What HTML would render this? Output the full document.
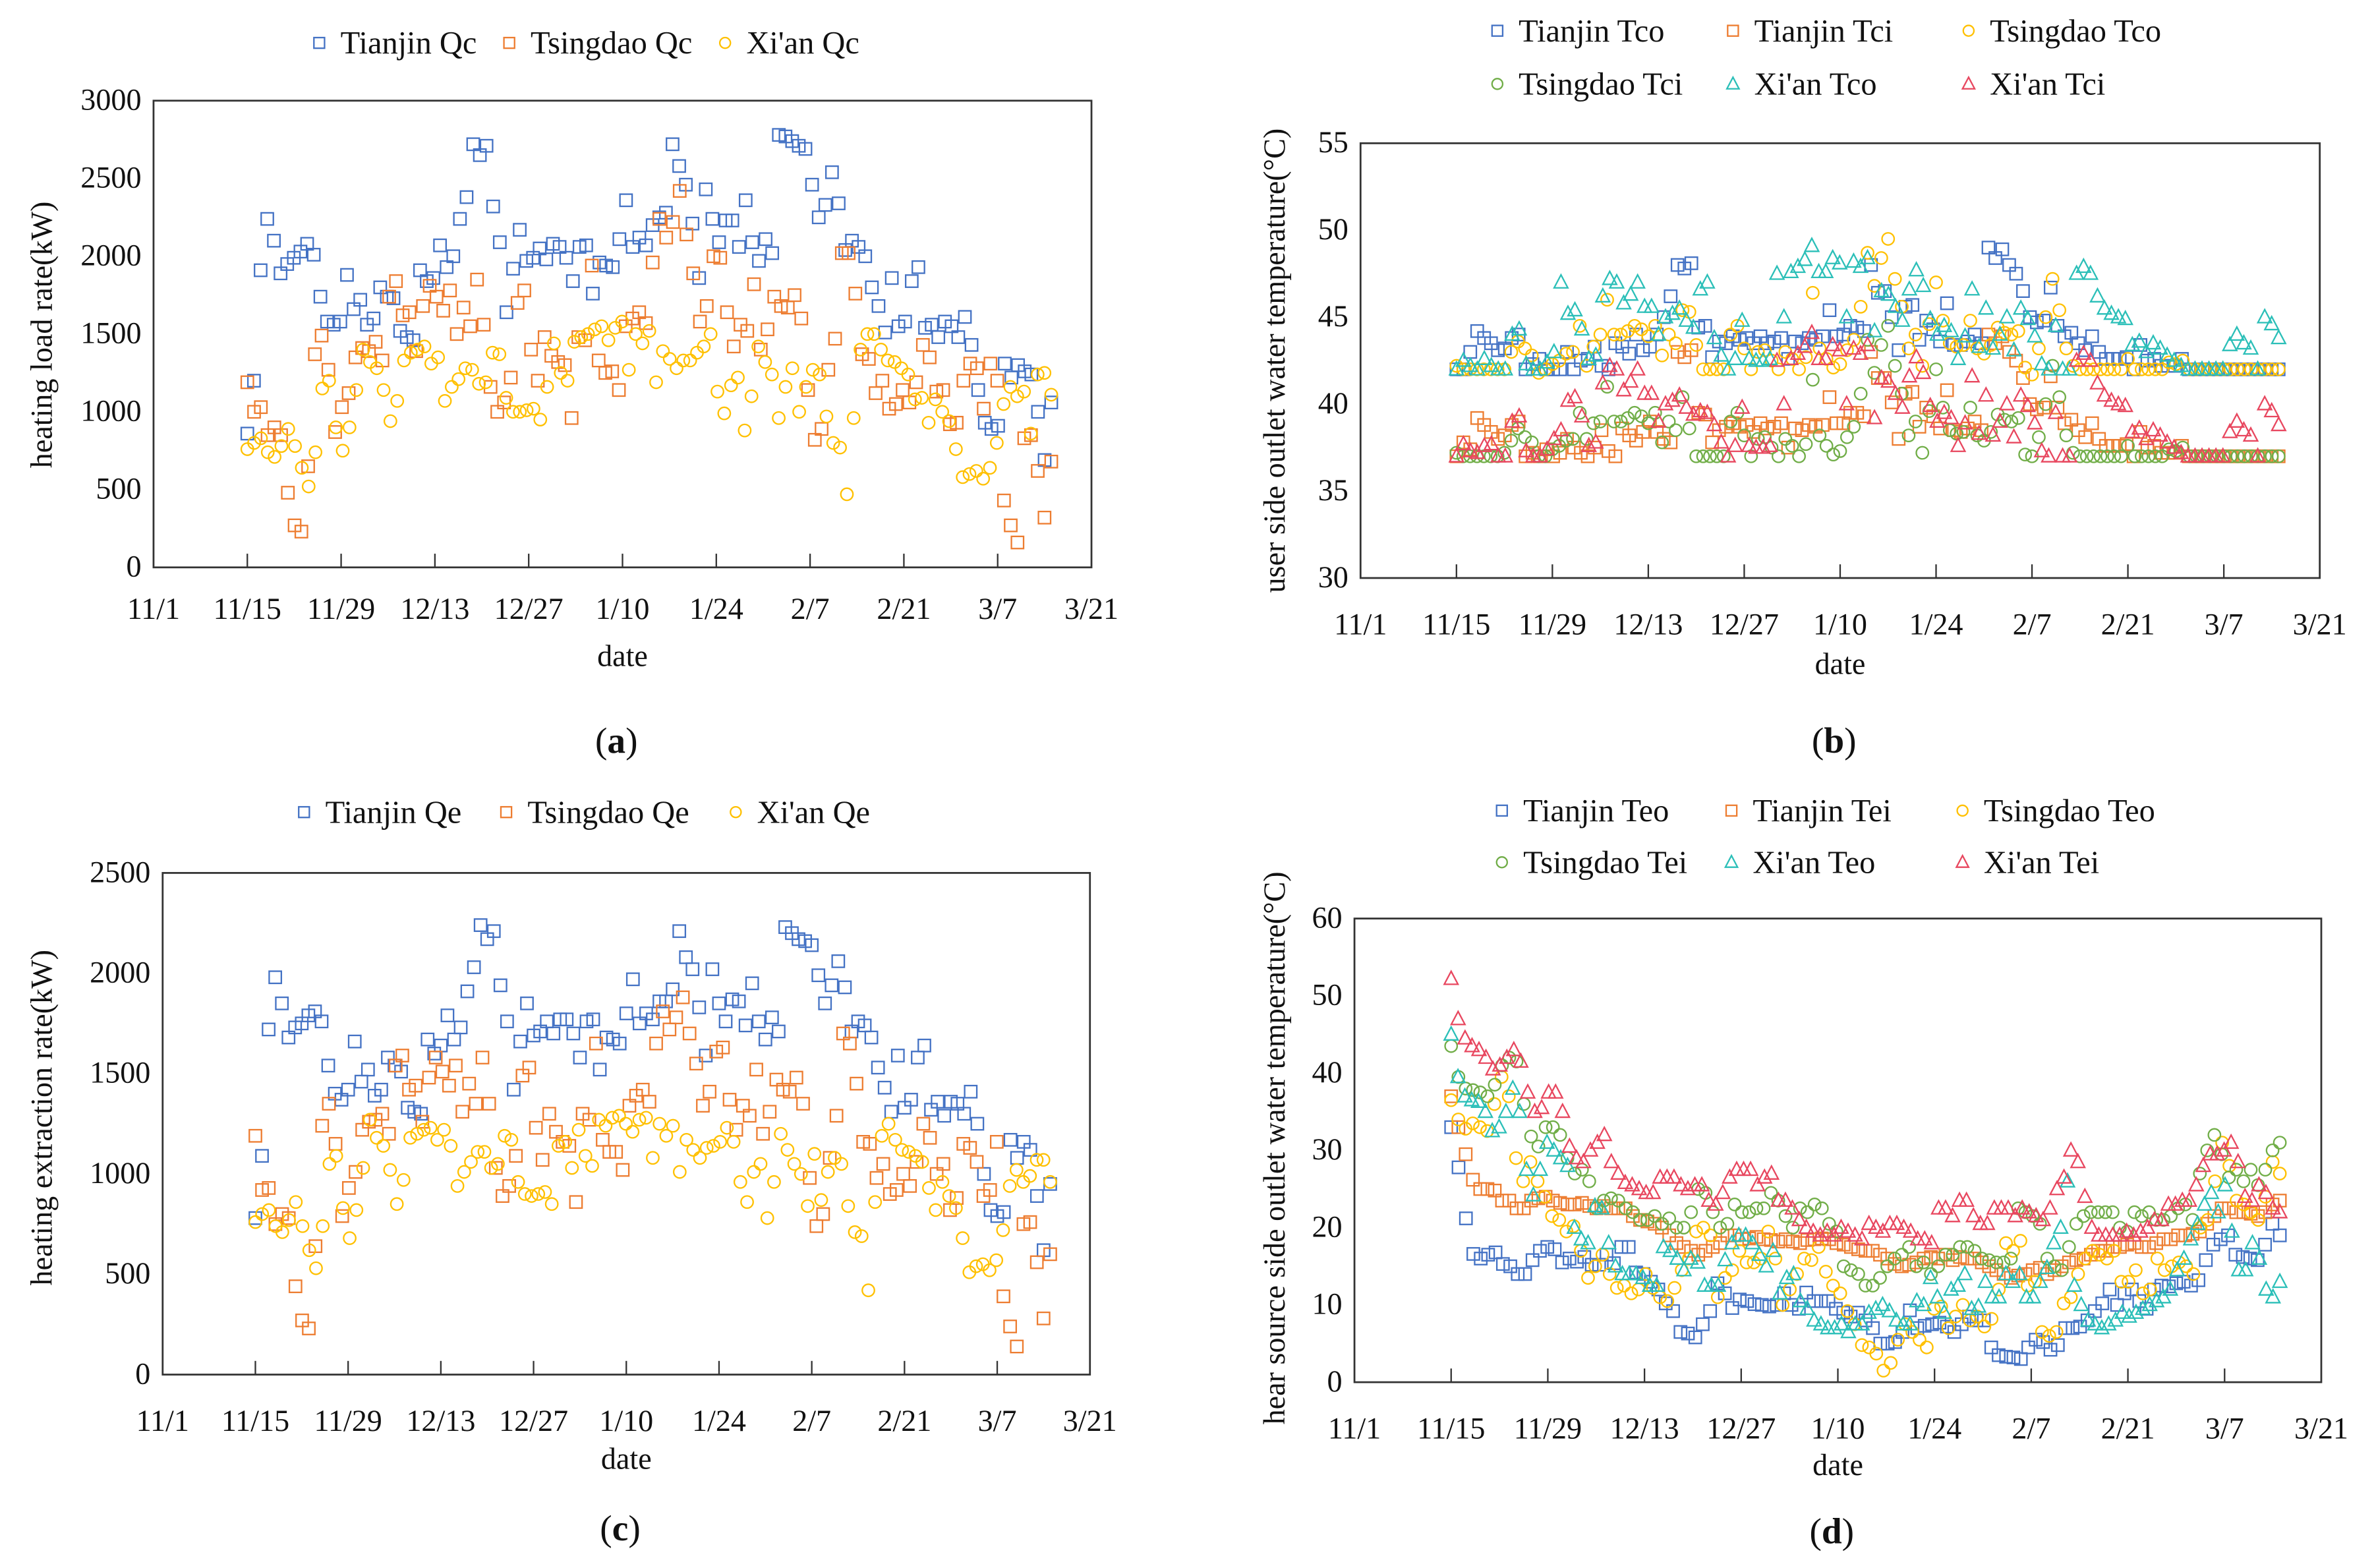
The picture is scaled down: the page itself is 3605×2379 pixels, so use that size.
<!DOCTYPE html>
<html><head><meta charset="utf-8"><style>
html,body{margin:0;padding:0;background:#fff}
svg{display:block}
svg text{font-family:"Liberation Serif","Noto Serif CJK SC",serif;fill:#111}
</style></head><body>
<svg id="fig" width="3605" height="2379" viewBox="0 0 1563 1031" xmlns="http://www.w3.org/2000/svg"></svg>
<script>
const dateTicks=["11/1","11/15","11/29","12/13","12/27","1/10","1/24","2/7","2/21","3/7","3/21"];
const startDay=14;
const endDay=134;
const aTianjin=[860,1200,1910,2240,2100,1890,1950,1990,2030,2080,2010,1740,1580,1560,1580,1880,1660,1720,1560,1600,1800,1740,1730,1520,1480,1460,1910,1840,1860,2070,1930,2000,2240,2380,2720,2650,2710,2320,2090,1640,1920,2170,1970,1990,2050,1980,2080,2060,1990,1840,2060,2070,1760,1960,1940,1930,2110,2360,2060,2120,2070,2200,2250,2280,2720,2580,2460,2210,1860,2430,2240,2090,2230,2230,2060,2360,2090,1970,2110,2020,2780,2770,2740,2710,2690,2460,2250,2330,2540,2340,2040,2100,2060,2000,1800,1680,1510,1860,1550,1580,1840,1930,1540,1560,1480,1580,1550,1480,1610,1430,1140,930,890,910,1310,1220,1300,1260,1240,1000,690,1060];
const aTsingdao=[1190,1000,1030,850,900,850,480,270,230,650,1370,1490,1270,870,1030,1120,1350,1410,1390,1450,1330,1740,1840,1620,1640,1390,1680,1810,1740,1650,1780,1500,1670,1550,1850,1560,1160,1000,1060,1220,1700,1780,1400,1200,1480,1360,1320,1300,960,1480,1460,1940,1330,1250,1260,1140,1550,1600,1640,1570,1960,2240,2120,2220,2420,2140,1890,1580,1680,2000,1990,1640,1420,1560,1520,1820,1400,1530,1740,1680,1670,1750,1600,1140,820,890,1270,1470,2020,2020,1760,1370,1340,1120,1200,1020,1050,1140,1060,1190,1430,1350,1130,1140,920,930,1200,1310,1280,1020,1310,1200,430,270,160,830,850,620,320,680];
const aXian=[760,800,830,740,710,780,890,780,640,520,740,1150,1200,900,750,900,1140,1400,1320,1280,1140,940,1070,1330,1380,1400,1420,1310,1350,1070,1160,1210,1280,1270,1180,1190,1380,1370,1090,1000,1000,1010,1020,950,1160,1440,1250,1200,1450,1480,1500,1530,1550,1460,1540,1580,1270,1500,1440,1520,1190,1390,1340,1280,1330,1330,1380,1420,1500,1130,990,1170,1220,880,1100,1420,1320,1240,960,1160,1280,1000,1160,1270,1240,970,800,770,470,960,1400,1500,1500,1400,1330,1320,1280,1240,1080,1090,930,1080,1000,940,760,580,600,620,570,640,800,1050,1160,1100,1130,860,1240,1250,1110];
const cTianjin=[780,1090,1720,1980,1850,1680,1730,1750,1790,1810,1760,1540,1400,1370,1420,1660,1460,1520,1390,1420,1580,1540,1510,1330,1310,1300,1670,1600,1640,1790,1670,1730,1910,2030,2240,2170,2210,1940,1760,1420,1660,1850,1690,1710,1760,1700,1770,1770,1700,1580,1760,1770,1520,1680,1670,1650,1800,1970,1750,1800,1770,1860,1860,1920,2210,2080,2020,1830,1590,2020,1850,1760,1870,1860,1740,1950,1760,1670,1780,1710,2230,2200,2170,2160,2140,1990,1850,1940,2060,1930,1710,1760,1740,1680,1530,1430,1310,1590,1330,1370,1580,1640,1320,1360,1290,1360,1350,1300,1410,1250,1000,820,790,810,1170,1080,1160,1120,890,620,950];
const cTsingdao=[1190,920,930,750,800,780,440,270,230,640,1240,1350,1150,790,930,1010,1220,1260,1270,1300,1200,1540,1590,1420,1440,1260,1480,1580,1510,1440,1540,1310,1450,1350,1580,1350,1030,890,940,1090,1490,1530,1230,1070,1300,1210,1160,1140,860,1300,1270,1650,1170,1110,1110,1020,1340,1390,1420,1360,1650,1810,1720,1780,1880,1700,1550,1340,1410,1610,1630,1370,1220,1340,1290,1520,1200,1310,1470,1420,1410,1480,1350,980,740,800,1080,1290,1700,1650,1450,1160,1150,980,1050,900,920,1000,940,1060,1250,1180,1000,1050,820,880,1150,1130,1060,890,920,1160,390,240,140,750,760,560,280,600];
const cXian=[760,800,820,740,710,770,860,740,620,530,740,1050,1090,830,680,820,1030,1270,1180,1140,1020,850,970,1180,1200,1220,1230,1170,1220,1140,940,1010,1060,1110,1110,1030,1050,1190,1170,960,900,890,900,910,850,1140,1160,1030,1220,1090,1040,1270,1240,1280,1290,1250,1210,1270,1280,1080,1250,1190,1240,1010,1170,1120,1080,1130,1140,1160,1230,1160,960,860,1010,1050,780,960,1200,1120,1050,1000,840,1100,870,1010,1080,1050,840,710,690,420,860,1190,1250,1170,1120,1110,1090,1060,930,820,960,890,830,680,510,540,550,520,570,720,940,1020,960,990,1070,1070,960];
const bTianjinTco=[42,42,43,44.2,43.8,43.5,43.1,43.2,43.8,44,42,42.3,42.6,42,42,42,43,42,42.5,42.6,43.3,42.2,42,43.5,43.3,42.9,44,43.1,43.3,44,45,46.2,48,47.8,48.1,44.4,44.5,42.7,43.6,43.5,43.9,43.7,43.8,43.5,43.9,43.5,43.6,43.8,42.6,43.6,43.5,43.8,43.7,43.9,45.4,43.9,44,44.5,44.4,44.2,48,46.4,46.5,45,43.1,45.6,45.7,43.7,44.8,44.3,43.6,45.8,43.4,43.4,43.6,44,43.5,49,48.4,48.9,48,47.5,46.5,45,44.7,44.8,46.7,44.5,43.9,44.1,43.5,43.1,43.9,43,42.6,42.6,42.6,42.7,42,43.4,42.5,42.6,42.2,42.2,42.2,42.6,42,42,42,42,42,42,42,42,42,42,42,42,42,42];
const bTianjinTci=[37,37.8,37.4,39.2,38.8,38.4,38,38.2,38.8,39,37,37.2,37,37.4,37,37.2,38,37.5,37.2,37,37.5,38.5,37.3,37,38.6,38.2,37.9,38.4,39,38.4,38,37.8,43,42.7,43.1,39.5,39.4,37.8,38.5,38.7,38.9,38.7,38.8,38.4,38.9,38.6,38.7,38.9,37.5,38.6,38.5,38.8,38.7,38.8,40.4,38.9,38.9,39.5,39.5,39.3,43,41.5,41.5,40.1,38,40.6,40.7,38.7,39.8,39.3,38.6,40.8,38.5,38.4,38.6,39,38.5,44,43.5,43.9,43,42.5,41.5,40,39.7,39.8,41.6,39.8,38.9,39.1,38.5,38.1,38.9,38,37.6,37.6,37.6,37.7,37,38.4,37.5,37.6,37.2,37.2,37.2,37.6,37,37,37,37,37,37,37,37,37,37,37,37,37,37];
const bTsingdaoTco=[42.2,42,42,42,42,42,42,42,43,43.6,43.2,42.8,41.8,42,42.3,42.5,42.9,43,44.5,42.2,43.3,44,46,44,44,44.2,44.5,44.3,43.9,44.5,42.8,44,43.5,45.4,45.3,43.4,42,42,42,42,44,44.5,43.2,42,43,43.1,42.5,42,43,42.6,42,42.7,46.4,43.2,42.6,42.1,42.3,43.1,43.7,45.6,48.7,46.8,48.4,49.5,47.2,45.6,43.2,44,42.2,44.6,47,44.8,43.5,43.3,43.4,44.8,43.2,42.9,43.4,44.4,44.1,44,44.2,42.1,41.7,43.2,45,47.2,45.4,43.2,42.2,42,42,42,42,42,42,42,42.6,42,42,42,42,42,42.4,42.3,42.5,42,42,42,42,42,42,42,42,42,42,42,42,42,42];
const bTsingdaoTci=[37.2,37,37,37,37,37,37,37.2,37.9,38.6,38.1,37.8,37,37,37.4,37.6,37.9,38,39.5,38,38.9,39,41,39,39,39.2,39.5,39.3,38.9,39.5,37.8,39,38.5,40.4,38.6,37,37,37,37,37,39,39.5,38.2,37,38,38.1,37.5,37,38,37.6,37,37.7,41.4,38.2,37.6,37.1,37.3,38.1,38.7,40.6,43.7,41.8,43.4,44.5,42.2,40.6,38.2,39,37.2,39.6,42,39.8,38.5,38.3,38.4,39.8,38.2,37.9,38.4,39.4,39.1,39,39.2,37.1,37,38.1,40,42.2,40.4,38.2,37.2,37,37,37,37,37,37,37,37.6,37,37,37,37,37,37.4,37.3,37.5,37,37,37,37,37,37,37,37,37,37,37,37,37,37];
const bXianTco=[42,42.5,42.2,42,42.6,42.2,42,42,44,44.3,42.3,42,42,42.4,43,47,45.2,45.4,44.3,42.6,42.8,46.2,47.2,47,45.8,46.3,47,45.6,45.6,44,45,45.2,45.5,44.8,44.4,46.6,47,43.8,42.8,42,42.6,44.8,42.6,42.5,42.5,42.6,47.5,45,47.6,47.9,48.3,49.1,47.6,47.6,48.4,48.1,45,48.2,47.9,48.4,44.2,46.5,46.3,45.6,44.8,46.6,47.7,46.8,44.9,44,44.5,44.2,42.6,43.9,46.6,43.3,45.5,43.2,44,45,43.1,45.5,44.9,43.9,42.3,42,44.5,42,42,47.5,47.9,47.5,46.2,45.5,45.2,45,44.9,43.4,43.6,43,43.5,43.2,42.8,42.5,42.2,42,42,42,42,42,42,43.4,44,43.5,43.2,42,45,44.6,43.8];
const bXianTci=[37,37.7,37.3,37.2,37.6,37.7,37,37,39,39.3,37.3,37,37,37.4,38,38.5,40.2,40.4,39.3,37.6,37.8,41.2,42.2,42,40.8,41.3,42,40.6,40.6,39,40,40.2,40.5,39.8,39.4,39.6,39.5,38.8,37.8,37,37.6,39.8,37.6,37.5,37.5,37.6,42.5,40,42.6,42.9,43.3,44.1,42.6,42.6,43.4,43.1,40,43.2,42.9,43.4,39.2,41.5,41.3,40.6,39.8,41.6,42.7,41.8,39.9,39,39.5,39.2,37.6,38.9,41.6,38.3,40.5,38.2,39,40,38.1,40.5,39.9,38.9,37.3,37,39.5,37,37,42.5,42.9,42.5,41.2,40.5,40.2,40,39.9,38.4,38.6,38,38.5,38.2,37.8,37.5,37.2,37,37,37,37,37,37,38.4,39,38.5,38.2,37,40,39.6,38.8];
const dTianjinTeo=[33,27.8,21.2,16.6,16,16.5,16.8,15.3,15,14,14,15.8,17,17.5,17.2,15.5,16,15.6,16.2,15.2,15.2,16.5,15.4,17.5,17.5,14.2,14,13,12,10.2,9.2,6.5,6.3,5.8,7.5,9.2,12.8,11.5,9.6,10.7,10.5,10.1,10,9.8,10,11.5,10,9.5,11.6,10.5,10.5,10.5,9.5,9,8.5,9,8,7,5,5,5.2,6.5,9.3,7,7.3,7.5,7.7,7.2,6.5,7.5,8.5,8,8,4.5,3.5,3.3,3.2,3,4.5,5.5,5.2,4.2,4.8,7,7,7.2,8,9.2,10.2,12,10,11.5,12,10.5,9.5,12,12.5,12.4,12.8,13,12.5,13.2,15.8,17.8,18.5,19,16.5,16.2,16,15.8,17.8,20.5,19];
const dTianjinTei=[37,33,29.5,26.2,25,25,24.8,23.5,23.5,22.5,22.5,23.5,23.8,24,23.5,23.2,23,23,23.2,22.8,22.5,22.8,22.5,22.5,22.5,21.5,21,20.8,20.5,20,19,18,17.5,17,16.5,17,17.5,18,19,19,18.5,18.6,18.8,18.5,18.4,18.2,18.5,18.2,18,18.4,18.5,18.6,18.5,18,17.8,17.5,17.2,17,17,16.5,16,15.3,15,15.2,15.5,16,16.2,16,16.5,15.8,16.2,16,16,15.5,15,14.5,14,13.5,13.8,14,14.5,14.8,14,14.5,15,15.5,15.8,16,16.5,17,17,17.5,17.5,17.8,18,17.5,17.5,18,18.5,18.5,19,19,19.2,19.5,20.5,21.5,22.5,22.5,22,22,21.8,21.5,22,23,23.5];
const dTsingdaoTeo=[36.5,34,32.8,33.5,33,32.5,36,39.5,37,29,26,28.5,26,24,21.5,21,19.5,20.2,17,13.5,15,16.5,14,12.2,12.5,11.5,12,14,12.2,11,10.5,12.2,14.5,16,19.5,20,19,11,13.5,14.5,17,15.5,15.5,16,19.5,16,10,12,14,16,15.8,17.5,14.3,12.5,11.5,9.2,7.5,4.8,4.5,3.7,1.5,2.5,5.5,7.5,6.5,5.5,4.5,9.5,9.8,7,8.5,10,8,8.5,7.2,8.2,12,18,17,18.3,12.5,13,6.5,6,6.5,10.2,11,14,16,17,16.5,16,17,13,13,14.5,11.5,12,16,14.5,15,15.5,15,14,20,21,26,31,28,23.5,23,22,21,24,28.5,27];
const dTsingdaoTei=[43.5,39.5,38,37.8,37.5,37,38.5,41,42,41.5,36,31.8,30.5,33,33,32,29,27,27.5,26,22.5,23.5,23.8,23.5,22.5,22,21,21,21.5,20.5,21.2,20,20,22,25,24.5,22,20,20.5,23,22,22,22.5,22.5,24.5,23.5,21.5,20,22.5,22,23,22.5,20.5,19.5,15,14.5,14,12.5,12.5,13.5,15,16,16.5,17.5,15,15.5,14,15,16.5,16.5,17.5,17.5,17,16,15.8,15.5,15.5,16,22.5,22,21.5,20.5,16,15,14.5,17.5,20.5,21.5,22,22,22,22,20,19.5,22,21.5,22,21,21,21.5,22.5,23,21,27,30,32,29.5,26.5,27.5,26,27.5,25.5,27.5,30,31];
const dXianTeo=[45,39.5,37,36.5,36.3,35,32.5,33,35,38,35,27.5,24.2,27.5,31,30,29,28,20,18.5,18,22.8,22.5,18,15,14,14,14,13.5,12.5,12.5,17.5,17,16,14.5,16,15.5,12.5,12.5,12.5,15.8,18,19,19,18,16.5,15,17,11.5,13.5,14,10.5,9.5,8,7.5,7,7,7.5,6.5,7.5,7.5,9,9.5,10,9.2,8,7.5,7.5,10.5,10,13.5,11,9,12,12.5,14,9.5,9.8,13,11,11,14,13,14,11,11,13,14.8,18,20,26,12.5,10,8,7.5,7,7.5,8,9,8.5,9,9.5,10,10.5,11,12,14.5,16,18.5,20.5,23,24.5,22,25.5,19.5,14.5,14.5,18,16,12,11,13];
const dXianTei=[52.2,47,44.5,43.5,43,42,40.5,41,42,43,41.5,37.5,35,35.5,37.5,37.5,35,30.5,29,28.5,30,31,32,28.5,27,25.8,25.5,25,24.5,24.5,26.5,26.5,26.5,25.5,25,25.5,25.5,23.5,23,24.5,26.5,27.5,27.5,27.5,25.5,26.5,27,23.5,23.5,22.5,21,20,19.5,19,19.5,19,20,19.5,19,18.5,20.5,20,19.5,20.5,20.5,20,19.5,18.5,18.5,18,22.5,22.5,21.5,23.5,23.5,21.5,20.5,20.5,22.5,22.5,22.5,21.5,22.5,22,21.5,21,22.5,25,26.5,30,28.5,24,20,19,19,19,19,19.5,19,19.5,20,21,21,23,23,23.5,23.5,25.5,28,29.5,29.5,30,31,28.5,24,23.5,25.5,24.5,22.5,22];
const aTicks=[0,500,1000,1500,2000,2500,3000];
const bTicks=[30,35,40,45,50,55];
const cTicks=[0,500,1000,1500,2000,2500];
const dTicks=[0,10,20,30,40,50,60];

const NS="http://www.w3.org/2000/svg";
const svg=document.getElementById('fig');
const FONT='"Liberation Serif","Noto Serif CJK SC",serif';
const C={blue:"#4472C4",orange:"#ED7D31",yellow:"#FFC000",green:"#70AD47",teal:"#2BBFB8",red:"#E8475F"};
function mk(tag,attrs,parent){const e=document.createElementNS(NS,tag);for(const k in attrs)e.setAttribute(k,attrs[k]);if(tag==='text')e.style.fontFamily=FONT;(parent||svg).appendChild(e);return e;}
function marker(g,shape,x,y,color,s){
  let e;
  if(shape==='sq') e=mk('rect',{x:x-s/2,y:y-s/2,width:s,height:s,fill:'none',stroke:color,'stroke-width':1},g);
  else if(shape==='ci') e=mk('circle',{cx:x,cy:y,r:s/2,fill:'none',stroke:color,'stroke-width':1},g);
  else e=mk('polygon',{points:`${x},${y-s*0.55} ${x-s*0.5},${y+s*0.4} ${x+s*0.5},${y+s*0.4}`,fill:'none',stroke:color,'stroke-width':1},g);
  return e;
}
function panel(p){
  const g=mk('g',{});
  
  
  const L=p.box[0],R=p.box[1],T=p.box[2],B=p.box[3];
  const xS=d=>L+d/140*(R-L);
  const yS=v=>B-(v-p.ymin)/(p.ymax-p.ymin)*(B-T);
  const frame=mk('rect',{x:L,y:T,width:R-L,height:B-T,fill:'none',stroke:'#333','stroke-width':1.2},g);
  
  
  dateTicks.forEach((t,i)=>{
    const x=xS(i*14);
    if(i>0&&i<10){const tk=mk('line',{x1:x,y1:B,x2:x,y2:B-9,stroke:'#333','stroke-width':1},g);
      
      }
    const tx=mk('text',{x:x,y:p.tickY,'text-anchor':'middle','font-size':20},g);
    tx.textContent=t;
    
    
  });
  p.yticks.forEach(v=>{
    const y=yS(v);
    const tx=mk('text',{x:L-8,y:y+6,'text-anchor':'end','font-size':20},g);
    tx.textContent=v;
    
    
  });
  const xt=mk('text',{x:(L+R)/2,y:p.dateY,'text-anchor':'middle','font-size':20},g);
  xt.textContent='date';
  
  
  const yt=mk('text',{x:0,y:0,'text-anchor':'middle','font-size':20,transform:`translate(${p.ylabX},${p.ylabY}) rotate(-90)`},g);
  yt.textContent=p.ylabel;
  
  
  const cap=mk('text',{x:(L+R)/2-4,y:p.capY,'text-anchor':'middle','font-size':24},g);
  cap.innerHTML='(<tspan font-weight="bold">'+p.cap+'</tspan>)';
  
  
  p.series.forEach(s=>{
    const sg=mk('g',{},g);
    
    
    const n=s.data.length;
    s.data.forEach((v,i)=>{
      const day=startDay+i*(endDay-startDay)/(n-1);
      const m=marker(sg,s.shape,xS(day),yS(v),s.color,s.shape==='tri'?9:8);
      
      
    });
    const lg=mk('g',{},g);
    
    
    marker(lg,s.shape,s.lx,s.ly,s.color,s.shape==='tri'?8:7);
    const lt=mk('text',{x:s.lx+14,y:s.ly+7,'font-size':21},lg);
    lt.textContent=s.label;
  });
}
panel({name:'panel-a-heating-load',box:[101,718,66,373],ymin:0,ymax:3000,yticks:aTicks,tickY:407,dateY:438,capY:495,ylabX:34,ylabY:220,ylabel:'heating load rate(kW)',cap:'a',
 series:[{key:'tianjin-qc',data:aTianjin,shape:'sq',color:C.blue,label:'Tianjin Qc',lx:210,ly:28},
 {key:'tsingdao-qc',data:aTsingdao,shape:'sq',color:C.orange,label:'Tsingdao Qc',lx:335,ly:28},
 {key:'xian-qc',data:aXian,shape:'ci',color:C.yellow,label:"Xi'an Qc",lx:477,ly:28}]});
panel({name:'panel-b-user-temp',box:[895,1526,94,380],ymin:30,ymax:55,yticks:bTicks,tickY:417,dateY:443,capY:495,ylabX:845,ylabY:237,ylabel:'user side outlet water temperature(\u00B0C)',cap:'b',
 series:[{key:'tianjin-tco',data:bTianjinTco,shape:'sq',color:C.blue,label:'Tianjin Tco',lx:985,ly:20},
 {key:'tianjin-tci',data:bTianjinTci,shape:'sq',color:C.orange,label:'Tianjin Tci',lx:1140,ly:20},
 {key:'tsingdao-tco',data:bTsingdaoTco,shape:'ci',color:C.yellow,label:'Tsingdao Tco',lx:1295,ly:20},
 {key:'tsingdao-tci',data:bTsingdaoTci,shape:'ci',color:C.green,label:'Tsingdao Tci',lx:985,ly:55},
 {key:'xian-tco',data:bXianTco,shape:'tri',color:C.teal,label:"Xi'an Tco",lx:1140,ly:55},
 {key:'xian-tci',data:bXianTci,shape:'tri',color:C.red,label:"Xi'an Tci",lx:1295,ly:55}]});
panel({name:'panel-c-heating-extraction',box:[107,717,574,904],ymin:0,ymax:2500,yticks:cTicks,tickY:941,dateY:966,capY:1013,ylabX:34,ylabY:735,ylabel:'heating extraction rate(kW)',cap:'c',
 series:[{key:'tianjin-qe',data:cTianjin,shape:'sq',color:C.blue,label:'Tianjin Qe',lx:200,ly:534},
 {key:'tsingdao-qe',data:cTsingdao,shape:'sq',color:C.orange,label:'Tsingdao Qe',lx:333,ly:534},
 {key:'xian-qe',data:cXian,shape:'ci',color:C.yellow,label:"Xi'an Qe",lx:484,ly:534}]});
panel({name:'panel-d-source-temp',box:[891,1527,604,909],ymin:0,ymax:60,yticks:dTicks,tickY:946,dateY:970,capY:1015,ylabX:845,ylabY:755,ylabel:'hear source side outlet water temperature(\u00B0C)',cap:'d',
 series:[{key:'tianjin-teo',data:dTianjinTeo,shape:'sq',color:C.blue,label:'Tianjin Teo',lx:988,ly:533},
 {key:'tianjin-tei',data:dTianjinTei,shape:'sq',color:C.orange,label:'Tianjin Tei',lx:1139,ly:533},
 {key:'tsingdao-teo',data:dTsingdaoTeo,shape:'ci',color:C.yellow,label:'Tsingdao Teo',lx:1291,ly:533},
 {key:'tsingdao-tei',data:dTsingdaoTei,shape:'ci',color:C.green,label:'Tsingdao Tei',lx:988,ly:567},
 {key:'xian-teo',data:dXianTeo,shape:'tri',color:C.teal,label:"Xi'an Teo",lx:1139,ly:567},
 {key:'xian-tei',data:dXianTei,shape:'tri',color:C.red,label:"Xi'an Tei",lx:1291,ly:567}]});
</script>
</body></html>
